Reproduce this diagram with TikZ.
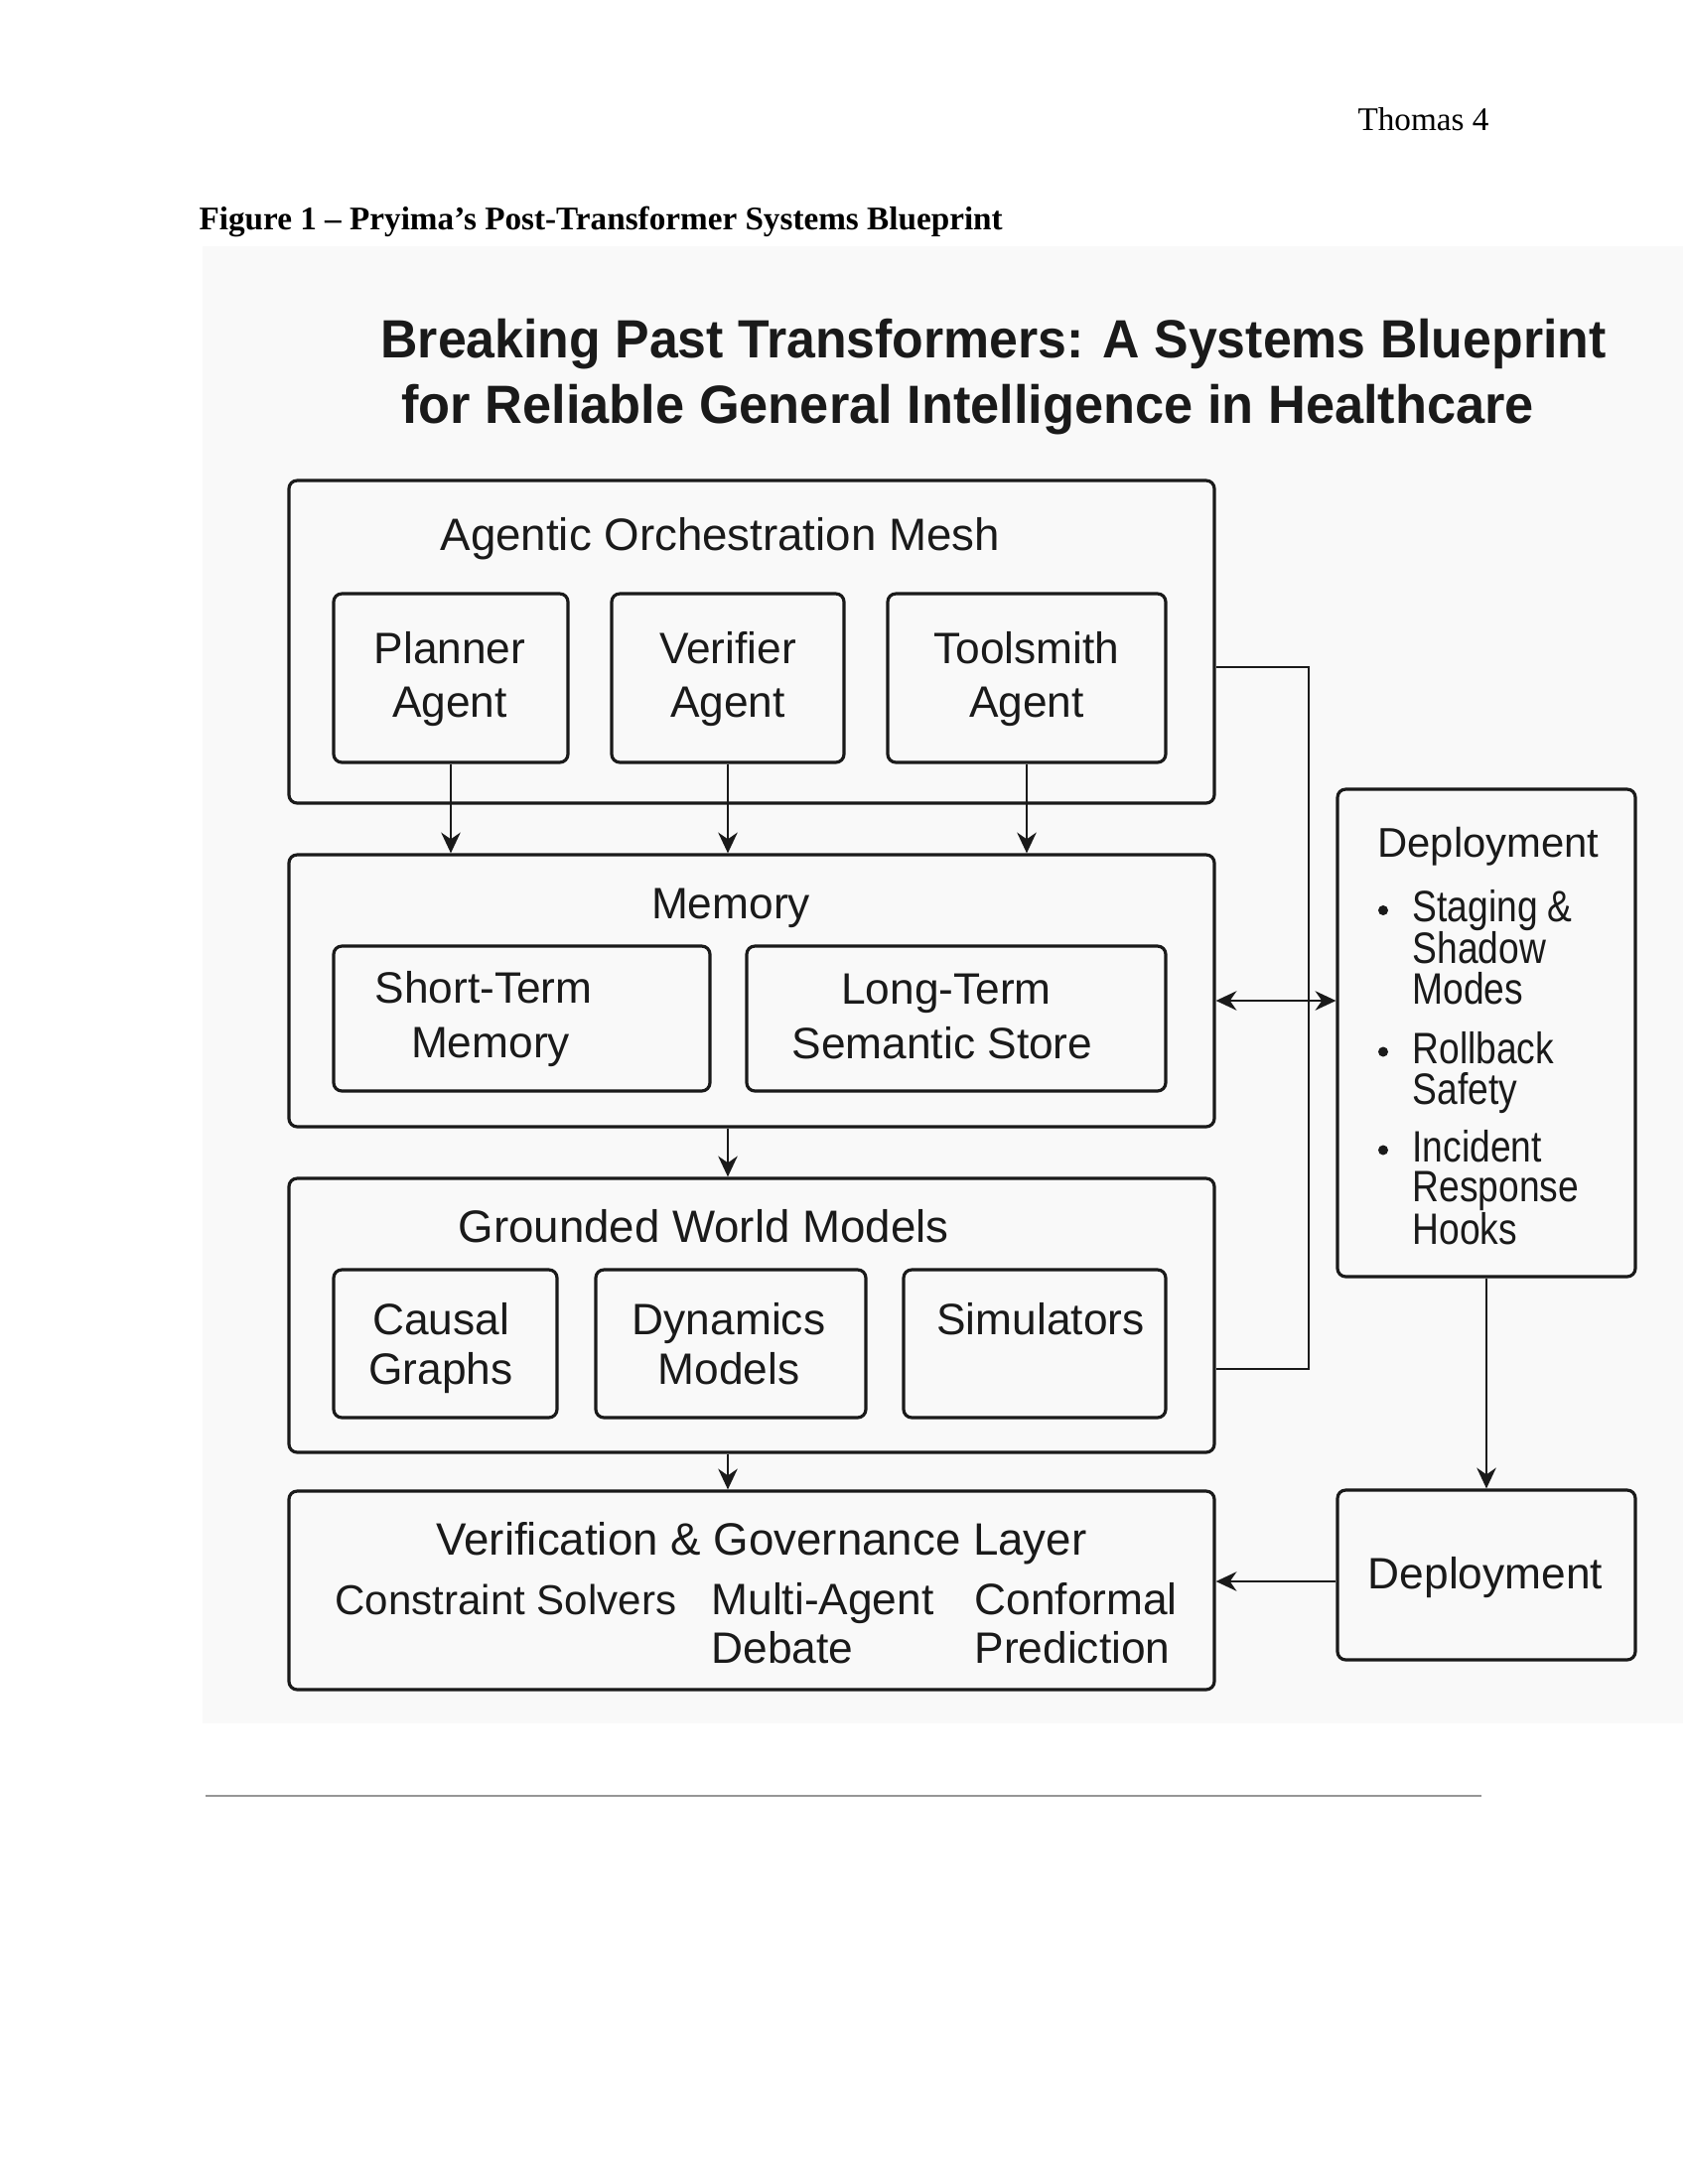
\documentclass[tikz,border=0pt]{standalone}
\usepackage{fontspec}
\setmainfont{Liberation Serif}
\newfontfamily\diafont{Liberation Sans}
\newfontfamily\narrowfont[FakeStretch=0.84]{Liberation Sans}
\newfontfamily\titlefont[FakeStretch=0.955]{Liberation Sans}
\newfontfamily\titlefontb[FakeStretch=0.965]{Liberation Sans}
\usetikzlibrary{arrows.meta,fit}
\definecolor{figbg}{RGB}{249,249,249}
\definecolor{ink}{RGB}{26,26,26}
\definecolor{rulegray}{RGB}{150,150,150}
\tikzset{
  box/.style={draw=ink, line width=1.15pt, rounded corners=3pt, inner sep=0pt},
  lbl/.style={font=\diafont\fontsize{16}{19}\selectfont, text=ink, inner sep=0pt, anchor=base},
  lbll/.style={lbl, anchor=base west},
  big/.style={font=\diafont\fontsize{16.5}{19}\selectfont},
  item/.style={lbll, font=\narrowfont\fontsize{16}{19}\selectfont, text height=11.5pt, text depth=0pt},
  ttl/.style={font=\titlefont\bfseries\fontsize{19.6}{24}\selectfont, text=ink, inner sep=0pt, anchor=base west},
  conn/.style={draw=ink, line width=0.95pt},
  arr/.style={conn, -{Stealth[length=7.5pt,width=7pt,inset=2.4pt]}},
  dbl/.style={conn, {Stealth[length=7.5pt,width=7pt,inset=2.4pt]}-{Stealth[length=7.5pt,width=7pt,inset=2.4pt]}},
}
\begin{document}
\begin{tikzpicture}[x=0.36bp, y=-0.36bp]
\useasboundingbox (0,0) rectangle (1700,2200);
\fill[white] (0,0) rectangle (1700,2200);
% page header and caption
\node[font=\fontsize{12}{14}\selectfont, inner sep=0pt, anchor=base east] (hdr) at (1500,131.7) {Thomas 4};
\node[font=\bfseries\fontsize{12}{14}\selectfont, inner sep=0pt, anchor=base west] (cap) at (200,231.7) {Figure 1 – Pryima’s Post-Transformer Systems Blueprint};
% figure background
\fill[figbg] (204,248) rectangle (1695,1736);
% title
\node[ttl] (title1) at (383,360) {Breaking Past Transformers: A Systems Blueprint};
\node[ttl, font=\titlefontb\bfseries\fontsize{19.6}{24}\selectfont] (title2) at (404,426.5) {for Reliable General Intelligence in Healthcare};
% boxes
\node[box, fit={(291,484) (1223,809)}] (agentic) {};
\node[box, fit={(336,598) (572,768)}] (planner) {};
\node[box, fit={(616,598) (850,768)}] (verifier) {};
\node[box, fit={(894,598) (1174,768)}] (toolsmith) {};
\node[box, fit={(291,861) (1223,1135)}] (memory) {};
\node[box, fit={(336,953) (715,1099)}] (short) {};
\node[box, fit={(752,953) (1174,1099)}] (long) {};
\node[box, fit={(291,1187) (1223,1463)}] (gwm) {};
\node[box, fit={(336,1279) (561,1428)}] (causal) {};
\node[box, fit={(600,1279) (872,1428)}] (dynamics) {};
\node[box, fit={(910,1279) (1174,1428)}] (simulators) {};
\node[box, fit={(291,1502) (1223,1702)}] (vg) {};
\node[box, fit={(1347,795) (1647,1286)}] (deploy1) {};
\node[box, fit={(1347,1501) (1647,1672)}] (deploy2) {};
% labels
\node[lbll, big] (tAgentic) at (443,554) {Agentic Orchestration Mesh};
\node[lbl] (tPlanner1) at (453,668) {Planner};
\node[lbl] (tPlanner2) at (453,722) {Agent};
\node[lbl] (tVerifier1) at (733,668) {Verifier};
\node[lbl] (tVerifier2) at (733,722) {Agent};
\node[lbl] (tTool1) at (1034,668) {Toolsmith};
\node[lbl] (tTool2) at (1034,722) {Agent};
\node[lbl] (tMemory) at (736,925) {Memory};
\node[lbl] (tShort1) at (487,1010) {Short-Term};
\node[lbl] (tShort2) at (494,1065) {Memory};
\node[lbl] (tLong1) at (953,1011) {Long-Term};
\node[lbl] (tLong2) at (949,1066) {Semantic Store};
\node[lbll, big] (tGwm) at (461,1251) {Grounded World Models};
\node[lbl] (tCausal1) at (444,1344) {Causal};
\node[lbl] (tCausal2) at (444,1394) {Graphs};
\node[lbl] (tDyn1) at (734,1344) {Dynamics};
\node[lbl] (tDyn2) at (734,1394) {Models};
\node[lbl] (tSim) at (1048,1344) {Simulators};
\node[lbll, big] (tVg) at (439,1566) {Verification \& Governance Layer};
\node[lbll, font=\diafont\fontsize{15.2}{18}\selectfont] (tCs) at (337,1626) {Constraint Solvers};
\node[lbll] (tMa1) at (716,1626) {Multi-Agent};
\node[lbll] (tMa2) at (716,1675) {Debate};
\node[lbll] (tCp1) at (981,1626) {Conformal};
\node[lbll] (tCp2) at (981,1675) {Prediction};
\node[lbll, font=\diafont\fontsize{15.1}{18}\selectfont] (tDep1) at (1387,863) {Deployment};
\node[item] (tI1a) at (1422,928.5) {Staging \&};
\node[item] (tI1b) at (1422,970) {Shadow};
\node[item] (tI1c) at (1422,1011.6) {Modes};
\node[item] (tI2a) at (1422,1071) {Rollback};
\node[item] (tI2b) at (1422,1112.5) {Safety};
\node[item] (tI3a) at (1422,1170) {Incident};
\node[item] (tI3b) at (1422,1210.5) {Response};
\node[item] (tI3c) at (1422,1253) {Hooks};
\fill[ink] (1393,917) circle (5);
\fill[ink] (1393,1059.5) circle (5);
\fill[ink] (1393,1158.5) circle (5);
\node[lbl] (tDep2) at (1496,1600) {Deployment};
% connectors
\draw[arr] (planner.south) -- (planner.south |- memory.north);
\draw[arr] (verifier.south) -- (verifier.south |- memory.north);
\draw[arr] (toolsmith.south) -- (toolsmith.south |- memory.north);
\draw[arr] (verifier.south |- memory.south) -- (verifier.south |- gwm.north);
\draw[arr] (verifier.south |- gwm.south) -- (verifier.south |- vg.north);
\coordinate (busT) at (1318,672);
\coordinate (busB) at (1318,1379);
\draw[conn] (agentic.east |- busT) -- (busT) -- (busB) -- (gwm.east |- busB);
\coordinate (dblY) at (1280,1008);
\draw[dbl] (memory.east |- dblY) -- (deploy1.west |- dblY);
\draw[arr] (deploy1.south) -- (deploy2.north);
\coordinate (d2Y) at (1290,1593);
\draw[arr] (deploy2.west |- d2Y) -- (vg.east |- d2Y);
% rule
\draw[rulegray, line width=1pt] (207,1809) -- (1492,1809);
\end{tikzpicture}
\end{document}
